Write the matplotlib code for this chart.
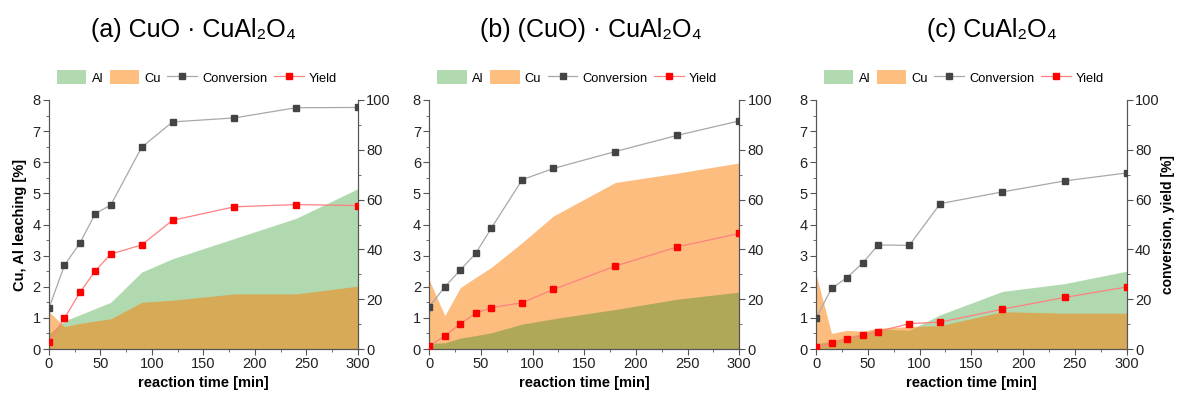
import matplotlib.pyplot as plt
from matplotlib.patches import Patch
from matplotlib.lines import Line2D
from matplotlib.ticker import MultipleLocator

plt.rcParams['font.family'] = ['Liberation Sans', 'DejaVu Sans']

time = [0, 15, 30, 45, 60, 90, 120, 180, 240, 300]

# (a) CuO . CuAl2O4
al_a = [0.5, 0.9, 1.1, 1.3, 1.5, 2.47, 2.9, 3.55, 4.2, 5.15]
cu_a = [1.2, 0.72, 0.82, 0.9, 0.97, 1.5, 1.57, 1.77, 1.77, 2.02]
conv_a = [16.4, 33.6, 42.5, 54.4, 57.8, 81, 91.2, 92.8, 96.9, 97]
yield_a = [2.8, 12.3, 22.7, 31.4, 38.1, 41.8, 51.7, 57.1, 58, 57.6]

# (b) (CuO) . CuAl2O4
al_b = [0.18, 0.2, 0.35, 0.43, 0.52, 0.8, 0.97, 1.27, 1.6, 1.83]
cu_b = [2.22, 1.07, 1.97, 2.3, 2.62, 3.42, 4.27, 5.35, 5.65, 5.98]
conv_b = [17, 24.9, 31.7, 38.4, 48.5, 68, 72.5, 79.3, 85.8, 91.6]
yield_b = [1.1, 5.3, 10, 14.4, 16.6, 18.6, 23.9, 33.3, 41, 46.4]

# (c) CuAl2O4
al_c = [0.18, 0.25, 0.4, 0.5, 0.65, 0.6, 1.1, 1.85, 2.1, 2.5]
cu_c = [2.4, 0.5, 0.6, 0.57, 0.67, 0.72, 0.75, 1.2, 1.15, 1.15]
conv_c = [12.3, 24.3, 28.7, 34.5, 41.8, 41.6, 58.4, 63.1, 67.5, 70.7]
yield_c = [0.7, 2.4, 4, 5.5, 7, 10.2, 10.8, 16, 20.7, 24.9]

titles = ['(a) CuO · CuAl₂O₄', '(b) (CuO) · CuAl₂O₄', '(c) CuAl₂O₄']
title_x = [0.164, 0.502, 0.843]

green = '#65b561'
orange = '#fb7d01'
spine_col = '#555555'

fig = plt.figure(figsize=(11.77, 3.94), dpi=100)
lefts = [0.0416, 0.3647, 0.6933]
widths = [0.2625, 0.2634, 0.264]

panels = [
    (al_a, cu_a, conv_a, yield_a, False),
    (al_b, cu_b, conv_b, yield_b, True),
    (al_c, cu_c, conv_c, yield_c, False),
]

for i, (al, cu, conv, yld, green_on_top) in enumerate(panels):
    ax = fig.add_axes([lefts[i], 0.1142, widths[i], 0.632])
    if green_on_top:
        # here the Al area sits over the Cu area -> olive overlap
        ax.fill_between(time, 0, cu, color=orange, alpha=0.5, lw=0)
        ax.fill_between(time, 0, al, color='#7d9b41', alpha=0.6, lw=0)
    else:
        ax.fill_between(time, 0, al, color=green, alpha=0.5, lw=0)
        ax.fill_between(time, 0, cu, color=orange, alpha=0.5, lw=0)
    ax.set_xlim(0, 300)
    ax.set_ylim(0, 8)
    ax.xaxis.set_major_locator(MultipleLocator(50))
    ax.xaxis.set_minor_locator(MultipleLocator(25))
    ax.yaxis.set_major_locator(MultipleLocator(1))
    ax.yaxis.set_minor_locator(MultipleLocator(0.5))
    ax.spines['top'].set_visible(False)

    ax2 = ax.twinx()
    ax2.plot(time, conv, color='#a8a8a8', lw=0.9, marker='s', ms=5,
             mfc='#444444', mec='#444444', zorder=3)
    ax2.plot(time, yld, color='#ff8080', lw=0.9, marker='s', ms=5,
             mfc='#ff0000', mec='#ff0000', zorder=3)
    ax2.set_ylim(0, 100)
    ax2.yaxis.set_major_locator(MultipleLocator(20))
    ax2.yaxis.set_minor_locator(MultipleLocator(10))
    ax2.spines['top'].set_visible(False)

    for a in (ax, ax2):
        for s in a.spines.values():
            s.set_color(spine_col)
        a.tick_params(which='major', length=4, color=spine_col,
                      labelsize=10.5, labelcolor='#222222', pad=2)
        a.tick_params(which='minor', length=2.5, color=spine_col)

    ax.set_xlabel('reaction time [min]', fontsize=10.5, fontweight='bold',
                  labelpad=3)
    if i == 0:
        ax.set_ylabel('Cu, Al leaching [%]', fontsize=10.5, fontweight='bold',
                      labelpad=4)
    if i == 2:
        ax2.set_ylabel('conversion, yield [%]', fontsize=10,
                       fontweight='bold', labelpad=1)

    handles = [
        Patch(facecolor='#b2dab0', edgecolor='none'),
        Patch(facecolor='#fdbe80', edgecolor='none'),
        Line2D([], [], color='#a8a8a8', lw=0.9, marker='s', ms=4,
               mfc='#444444', mec='#444444'),
        Line2D([], [], color='#ff8080', lw=0.9, marker='s', ms=4,
               mfc='#ff0000', mec='#ff0000'),
    ]
    ax.legend(handles, ['Al', 'Cu', 'Conversion', 'Yield'], ncol=4,
              loc='lower left', bbox_to_anchor=(0.0, 1.03), frameon=False,
              fontsize=9.3, handlelength=2.3, handleheight=1.3,
              columnspacing=0.5, handletextpad=0.4, borderaxespad=0.2)

    fig.text(title_x[i], 0.924, titles[i], ha='center', va='center',
             fontsize=18)

fig.savefig('out.png', dpi=100)
